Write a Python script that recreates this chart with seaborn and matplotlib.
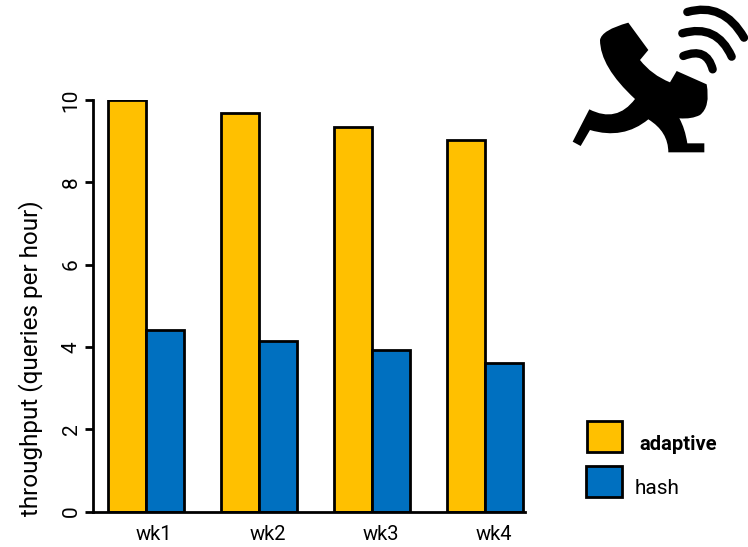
import matplotlib
matplotlib.use('Agg')
import matplotlib.pyplot as plt
from matplotlib.patches import PathPatch, Rectangle
from matplotlib.path import Path
from matplotlib.transforms import ScaledTranslation
import pandas as pd
import seaborn as sns

# values
weeks = ['wk1', 'wk2', 'wk3', 'wk4']
adaptive = [10.0, 9.68, 9.35, 9.03]
hash_join = [4.42, 4.15, 3.93, 3.62]
series_names = ['adaptive', 'hash']
colors = ['#FFC000', '#0070C0']
y_ticks = [0, 2, 4, 6, 8, 10]

W, H = 748, 547

sns.set_theme(style='ticks')
plt.rcParams['font.family'] = ['Roboto', 'DejaVu Sans']
plt.rcParams['text.color'] = 'black'
plt.rcParams['axes.labelcolor'] = 'black'
plt.rcParams['xtick.labelcolor'] = 'black'
plt.rcParams['ytick.labelcolor'] = 'black'
plt.rcParams['axes.edgecolor'] = 'black'
plt.rcParams['xtick.color'] = 'black'
plt.rcParams['ytick.color'] = 'black'

df = pd.DataFrame({
    'week': weeks * 2,
    'series': [series_names[0]] * 4 + [series_names[1]] * 4,
    'value': adaptive + hash_join,
})

fig = plt.figure(figsize=(W / 100, H / 100), dpi=100)
ax = fig.add_axes([93 / W, 1 - 511.5 / H, (525 - 93) / W, (511.5 - 100) / H])

sns.barplot(data=df, x='week', y='value', hue='series', palette=colors, width=0.672,
            edgecolor='black', linewidth=2, saturation=1, legend=False, ax=ax)

ax.set_xlim(-0.472, 3.351)
ax.set_ylim(0, 10)
ax.set_yticks(y_ticks)
ax.set_yticklabels(y_ticks, rotation=90, va='center', fontsize=15)
ax.set_xlabel('')
ax.set_ylabel('throughput (queries per hour)', fontsize=17.5)
ax.yaxis.set_label_coords(-50 / 432, (511.5 - 358) / 411.5)
ax.tick_params(axis='y', length=6, width=2, pad=3)
ax.tick_params(axis='x', length=0, pad=10, labelsize=14.5)

# week labels sit a little right of the bar pairs
shift = ScaledTranslation(8 / 100, 0, fig.dpi_scale_trans)
for lab in ax.get_xticklabels():
    lab.set_transform(lab.get_transform() + shift)

for side in ['top', 'right']:
    ax.spines[side].set_visible(False)
for side in ['left', 'bottom']:
    ax.spines[side].set_linewidth(2)

# overlay in pixel coords for the legend boxes and the phone icon
over = fig.add_axes([0, 0, 1, 1])
over.set_xlim(0, W)
over.set_ylim(H, 0)
over.axis('off')

over.add_patch(Rectangle((587, 421), 35, 31, fc=colors[0], ec='black', lw=2))
over.add_patch(Rectangle((586, 466), 36, 31, fc=colors[1], ec='black', lw=2))
over.text(639, 444, series_names[0], fontsize=14.5, fontweight='bold', va='center')
over.text(635, 489, series_names[1], fontsize=15, va='center')


def z(x, y):
    # crop coords to picture coords
    return (560 + x / 3, y / 3)


M, L, C = Path.MOVETO, Path.LINETO, Path.CURVE3
body = [
    (M, 205, 68), (L, 265, 150), (L, 240, 180), (C, 275, 225), (C, 330, 247),
    (L, 350, 213), (L, 440, 253), (C, 452, 320), (C, 420, 345), (C, 395, 358), (C, 358, 355),
    (C, 375, 385), (C, 382, 430), (L, 433, 430), (L, 433, 457), (L, 325, 457),
    (C, 325, 395), (C, 265, 358), (C, 190, 420), (C, 90, 390), (L, 62, 438), (L, 38, 425),
    (L, 88, 328), (C, 170, 370), (C, 225, 297), (C, 120, 200), (C, 120, 120),
    (C, 125, 90), (C, 205, 68),
]
body_path = Path([z(x, y) for _, x, y in body], [c for c, _, _ in body])
over.add_patch(PathPatch(body_path, fc='black', ec='none'))

arcs = [
    [(382, 36), (490, 5), (552, 113)],
    [(367, 100), (470, 70), (515, 170)],
    [(370, 168), (440, 140), (458, 208)],
]
for a in arcs:
    p = Path([z(*pt) for pt in a], [M, C, C])
    over.add_patch(PathPatch(p, fc='none', ec='black', lw=6, capstyle='round'))

fig.savefig('out.png', dpi=100)
